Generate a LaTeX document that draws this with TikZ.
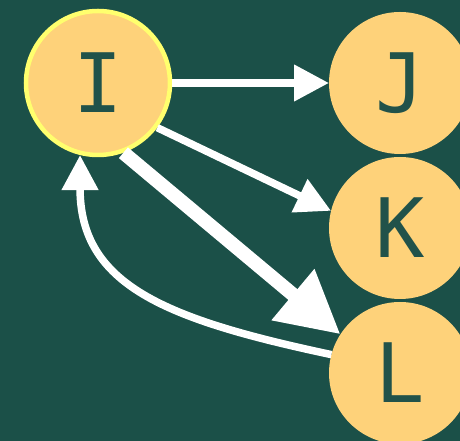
\documentclass[tikz,border=0pt]{standalone}
\usepackage{fontspec}
\newfontfamily\glyphfont{DejaVu Sans Mono}
\usetikzlibrary{arrows.meta,positioning}
\definecolor{board}{RGB}{27,80,72}
\definecolor{peach}{RGB}{254,210,122}
\definecolor{lemon}{RGB}{255,255,110}
\definecolor{ink}{RGB}{33,82,74}

\begin{document}
\begin{tikzpicture}[x=1pt,y=1pt,
    node distance=145pt, on grid,
    vertex/.style={circle,fill=peach,text=ink,minimum size=142pt,inner sep=0pt,outer sep=0pt,
      font=\glyphfont\fontsize{82}{82}\selectfont,text height=59.8pt,text depth=0pt},
    start/.style={draw=lemon,line width=4.5pt,minimum size=144pt,outer sep=2.25pt},
    link/.style={color=white,line width=7.5pt,-{Triangle[length=35pt,width=35pt]}},
    heavy/.style={line width=14pt,-{Triangle[length=62pt,width=63pt]}}]
    \useasboundingbox (0,0) rectangle (460,441);
    \fill[board] (0,0) rectangle (460,441);
    \node[vertex,start] (I) at (98,358) {I};
    \node[vertex] (J) [right=302pt of I] {J};
    \node[vertex] (K) [below=of J] {K};
    \node[vertex] (L) [below=of K] {L};
    \path[link]
    (I.east) edge (J.west)
    (I.-37) edge (K.166)
    (I.-70) edge [heavy] (L.147)
    (L.165) edge [out=168,in=-90,out distance=170pt,in distance=130pt] (I.-104)
    ;
\end{tikzpicture}
\end{document}
